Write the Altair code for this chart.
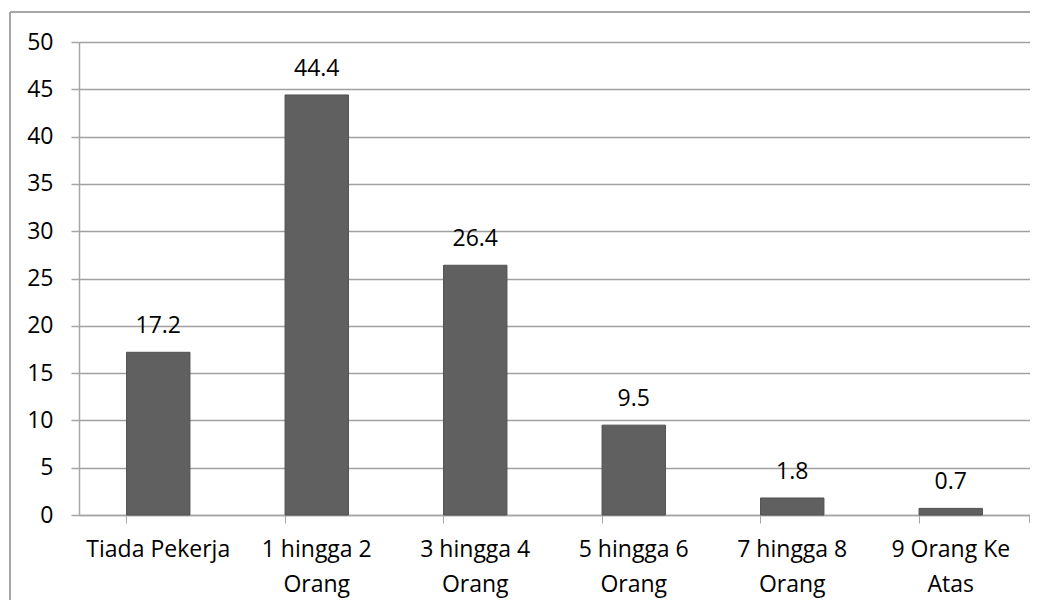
import altair as alt
import pandas as pd

categories = ["Tiada Pekerja", "1 hingga 2\nOrang", "3 hingga 4\nOrang",
              "5 hingga 6\nOrang", "7 hingga 8\nOrang", "9 Orang Ke\nAtas"]
values = [17.2, 44.4, 26.4, 9.5, 1.8, 0.7]
y_ticks = [0, 5, 10, 15, 20, 25, 30, 35, 40, 45, 50]

df = pd.DataFrame({"cat": categories, "val": values, "lbl": [f"{v:.1f}" for v in values]})

FONT = "Open Sans"
FS = 23
W, H = 951, 473

x = alt.X("cat:N", sort=categories, title=None,
          scale=alt.Scale(paddingInner=0.6, paddingOuter=0.3),
          axis=alt.Axis(labelAngle=0, labelFont=FONT, labelFontSize=FS, labelColor="#000000",
                        labelExpr="split(datum.label, '\\n')", labelLineHeight=35,
                        labelPadding=15, labelBaseline="top",
                        bandPosition=0, tickSize=8, tickColor="#a6a6a6", tickWidth=1,
                        domainColor="#a6a6a6", domainWidth=1.5, grid=False))
y = alt.Y("val:Q", title=None,
          scale=alt.Scale(domain=[0, 50], nice=False),
          axis=alt.Axis(values=y_ticks, labelFont=FONT, labelFontSize=FS, labelColor="#000000",
                        labelPadding=18, tickSize=8, tickColor="#a6a6a6", tickWidth=1.5,
                        domainColor="#a6a6a6", domainWidth=1.5,
                        grid=True, gridColor="#a0a0a0", gridWidth=1.5))

bars = alt.Chart(df).mark_bar(color="#606060", stroke="#505050", strokeWidth=1).encode(x=x, y=y)
labels = alt.Chart(df).mark_text(font=FONT, fontSize=FS, color="#000000", baseline="alphabetic", dy=-19).encode(
    x=alt.X("cat:N", sort=categories), y="val:Q", text="lbl:N")

# right-end category tick and outer chart frame
right_tick = alt.Chart(df).mark_rule(color="#a6a6a6", strokeWidth=1).encode(
    x=alt.value(W), y=alt.value(H), y2=alt.value(H + 8))
frame_left = alt.Chart(df).mark_rule(color="#a6a6a6", strokeWidth=1.5).encode(
    x=alt.value(-69), y=alt.value(-30), y2=alt.value(H + 200))
frame_top = alt.Chart(df).mark_rule(color="#a6a6a6", strokeWidth=1.5).encode(
    x=alt.value(-69), x2=alt.value(W + 100), y=alt.value(-30))

chart = alt.layer(bars, labels, right_tick, frame_left, frame_top).properties(
    width=W, height=H,
    autosize=alt.AutoSizeParams(type="none"),
    padding={"left": 71, "top": 34, "right": 0, "bottom": 85},
).configure_view(fill="#e6e6e6", stroke=None).configure(background="#ffffff")

chart.save("out.html", embed_options={"renderer": "svg", "actions": False})
